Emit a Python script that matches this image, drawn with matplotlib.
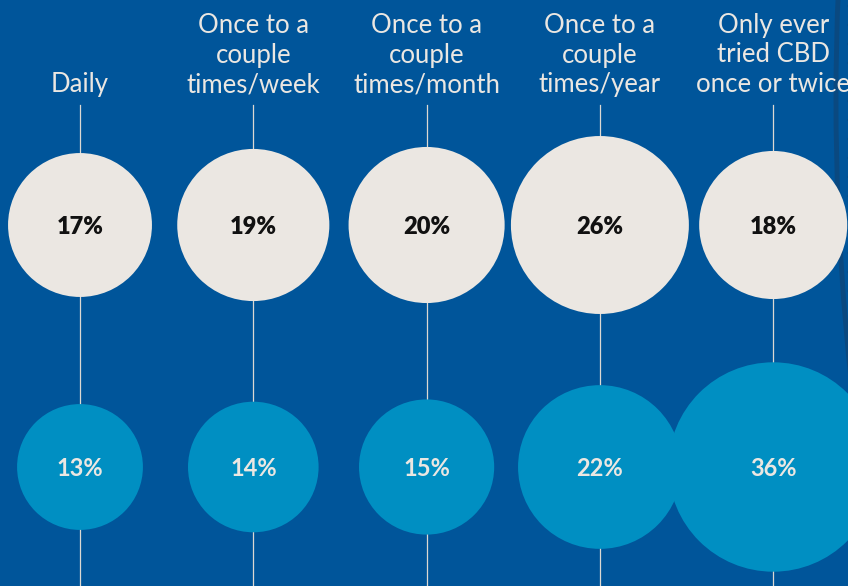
import matplotlib
matplotlib.use("Agg")
import matplotlib.pyplot as plt
from matplotlib.patches import Circle, Arc
import numpy as np

# data
labels = ["Daily",
          "Once to a\ncouple\ntimes/week",
          "Once to a\ncouple\ntimes/month",
          "Once to a\ncouple\ntimes/year",
          "Only ever\ntried CBD\nonce or twice"]
top_values = [17, 19, 20, 26, 18]
bottom_values = [13, 14, 15, 22, 36]

BG = "#00559a"
TOP_COLOR = "#ebe7e2"
BOTTOM_COLOR = "#008fc2"
LINE_COLOR = "#dcd8d2"
DECO = "#0a4980"

W, H = 848, 586
fig = plt.figure(figsize=(W / 100, H / 100), dpi=100)
fig.patch.set_facecolor(BG)
ax = fig.add_axes([0, 0, 1, 1])
ax.set_facecolor(BG)
ax.set_xlim(0, W)
ax.set_ylim(H, 0)
ax.set_aspect("equal")
ax.axis("off")

col_x = 80 + 173.3 * np.arange(len(labels))
top_y, bottom_y = 225, 467
k = 17.45  # px per sqrt(percent) -> area-proportional circles

# decoration at right edge: dark arc with dots
R = 2610
ax.add_patch(Arc((836 + R, 100), 2 * R, 2 * R, theta1=170, theta2=190,
                 color=DECO, lw=3.5, zorder=0.5))
for yy in np.arange(6, 330, 9.5):
    for xx in np.arange(841, 850, 8):
        edge = 836 + R - np.sqrt(R ** 2 - (yy - 100) ** 2)
        if xx > edge + 5:
            ax.add_patch(Circle((xx + (yy // 9.5 % 2) * 4, yy), 1.6,
                                color=DECO, lw=0, zorder=0.5))

for x, lab, tv, bv in zip(col_x, labels, top_values, bottom_values):
    ax.plot([x, x], [105, H], color=LINE_COLOR, lw=0.9, zorder=1)

    lines = lab.split("\n")
    for i, line in enumerate(lines):
        base = 92 - 29.5 * (len(lines) - 1 - i)
        ax.text(x, base, line, ha="center", va="baseline", fontsize=18.5,
                family="Lato", fontweight="normal", color=TOP_COLOR, zorder=3)

    ax.add_patch(Circle((x, top_y), k * np.sqrt(tv), color=TOP_COLOR, lw=0, zorder=2))
    ax.text(x, top_y, f"{tv}%", ha="center", va="center_baseline", fontsize=17,
            family="Lato", fontweight="heavy", color="#111111", zorder=3)

    ax.add_patch(Circle((x, bottom_y), k * np.sqrt(bv), color=BOTTOM_COLOR, lw=0, zorder=2))
    ax.text(x, bottom_y, f"{bv}%", ha="center", va="center_baseline", fontsize=17,
            family="Lato", fontweight="bold", color=TOP_COLOR, zorder=3)

fig.savefig("out.png", dpi=100, facecolor=BG)
